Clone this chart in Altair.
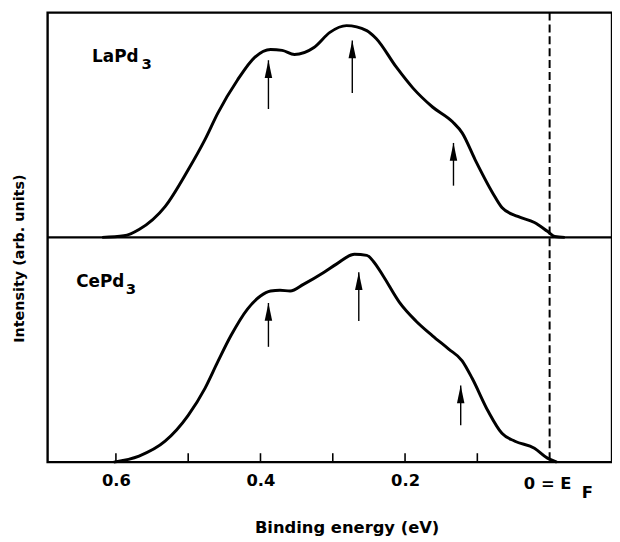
import altair as alt
import pandas as pd

# ---- data (binding energy in eV, intensity in arb. units, 0-100 per panel)
energy_la = [0.619, 0.589, 0.568, 0.532, 0.500, 0.477, 0.459, 0.432, 0.408, 0.386, 0.370, 0.353,
             0.326, 0.304, 0.281, 0.253, 0.240, 0.212, 0.189, 0.162, 0.134, 0.121, 0.103, 0.079,
             0.066, 0.044, 0.021, 0.003, -0.007, -0.021]
intensity_la = [0.0, 0.7, 3.5, 13.7, 30.1, 43.4, 55.3, 69.9, 80.1, 83.6, 83.2, 81.4,
                84.5, 91.2, 94.2, 92.0, 88.5, 75.7, 66.4, 58.0, 51.3, 46.5, 34.5, 19.9,
                13.3, 9.3, 6.6, 2.7, 0.4, 0.0]

energy_ce = [0.603, 0.568, 0.532, 0.500, 0.477, 0.459, 0.441, 0.418, 0.400, 0.386, 0.373, 0.359,
             0.340, 0.312, 0.295, 0.270, 0.253, 0.244, 0.230, 0.208, 0.185, 0.162, 0.140, 0.121,
             0.107, 0.085, 0.066, 0.048, 0.021, 0.003, -0.010]
intensity_ce = [0.0, 2.7, 9.3, 20.8, 32.7, 44.7, 56.2, 68.1, 73.9, 76.1, 76.5, 76.1,
                79.2, 84.5, 88.1, 92.5, 92.0, 89.4, 82.7, 71.2, 62.8, 56.2, 50.4, 45.1,
                37.2, 22.6, 12.8, 9.3, 6.2, 1.8, 0.0]

arrow_x_la = [0.389, 0.273, 0.133]
arrow_tip_la = [78.8, 87.6, 42.0]
arrow_tail_la = [57.1, 64.2, 23.0]
arrow_x_ce = [0.389, 0.264, 0.123]
arrow_tip_ce = [70.8, 84.5, 34.1]
arrow_tail_ce = [51.3, 62.8, 16.4]

tick_values = [0.6, 0.5, 0.4, 0.3, 0.2, 0.1]
label_values = [0.6, 0.4, 0.2]

compounds = ["LaPd3", "CePd3"]
panel_offset = {"LaPd3": 100.0, "CePd3": 0.0}

FONT = "DejaVu Sans"

rows = []
for e, i in zip(energy_la, intensity_la):
    rows.append({"compound": "LaPd3", "energy": e, "intensity": i})
for e, i in zip(energy_ce, intensity_ce):
    rows.append({"compound": "CePd3", "energy": e, "intensity": i})
curves = pd.DataFrame(rows)
curves["y"] = curves["intensity"] + curves["compound"].map(panel_offset)

arows = []
for x, t, b in zip(arrow_x_la, arrow_tip_la, arrow_tail_la):
    arows.append({"compound": "LaPd3", "energy": x, "tip": t + 100.0, "tail": b + 100.0})
for x, t, b in zip(arrow_x_ce, arrow_tip_ce, arrow_tail_ce):
    arows.append({"compound": "CePd3", "energy": x, "tip": t, "tail": b})
arrows = pd.DataFrame(arows)

xscale = alt.Scale(domain=[-0.0863, 0.6945], reverse=True, nice=False, zero=False)
yscale = alt.Scale(domain=[0, 200], nice=False, zero=True)

x_enc = alt.X(
    "energy:Q", scale=xscale,
    axis=alt.Axis(values=label_values, format=".1f", ticks=False, tickSize=0, domain=False,
                  grid=False, labelPadding=11, labelFontSize=16.5, labelFont=FONT,
                  labelFontWeight="bold", labelColor="black",
                  title="Binding energy (eV)", titleFont=FONT, titleFontSize=16.5,
                  titleFontWeight="bold", titleColor="black", titleX=302, titleY=66,
                  titleBaseline="middle", titleAlign="center"),
)
y_enc = alt.Y(
    "y:Q", scale=yscale,
    axis=alt.Axis(labels=False, ticks=False, domain=False, grid=False,
                  title="Intensity (arb. units)", titleFont=FONT, titleFontSize=14.5,
                  titleFontWeight="bold", titleColor="black", titleX=-28, titleY=248,
                  titleAngle=-90, titleBaseline="middle", titleAlign="center"),
)

lines = alt.Chart(curves).mark_line(
    color="black", strokeWidth=3, interpolate="monotone"
).encode(x=x_enc, y=y_enc, detail="compound:N")

shafts = alt.Chart(arrows).mark_rule(color="black", strokeWidth=1.4).encode(
    x=alt.X("energy:Q", scale=xscale), y=alt.Y("tail:Q", scale=yscale), y2="tip:Q"
)
heads = alt.Chart(arrows).mark_point(
    shape="M0,0L0.42,2L-0.42,2Z", filled=True, color="black", size=324, opacity=1, strokeWidth=0
).encode(x=alt.X("energy:Q", scale=xscale), y=alt.Y("tip:Q", scale=yscale))

mid_df = pd.DataFrame({"level": [100.0]})
midline = alt.Chart(mid_df).mark_rule(color="black", strokeWidth=2.4).encode(
    y=alt.Y("level:Q", scale=yscale)
)

fermi_df = pd.DataFrame({"energy": [0.0]})
fermi = alt.Chart(fermi_df).mark_rule(color="black", strokeWidth=2, strokeDash=[8, 4]).encode(
    x=alt.X("energy:Q", scale=xscale)
)

ticks_df = pd.DataFrame({"energy": tick_values})
ticks = alt.Chart(ticks_df).mark_rule(color="black", strokeWidth=1.6).encode(
    x=alt.X("energy:Q", scale=xscale), y=alt.value(454), y2=alt.value(445)
)

ef_label = alt.Chart(fermi_df).mark_text(
    text="0 = E", font=FONT, fontSize=16.5, fontWeight="bold", color="black",
    align="center", baseline="middle", dx=-2
).encode(x=alt.X("energy:Q", scale=xscale), y=alt.value(476))
ef_sub = alt.Chart(fermi_df).mark_text(
    text="F", font=FONT, fontSize=16.5, fontWeight="bold", color="black",
    align="center", baseline="middle", dx=38
).encode(x=alt.X("energy:Q", scale=xscale), y=alt.value(485))

name_df = pd.DataFrame({"compound": compounds,
                        "base": ["LaPd", "CePd"],
                        "sub": ["3", "3"]})
name_pos = {"LaPd3": (0.633, 178.0), "CePd3": (0.655, 78.0)}
name_df["energy"] = name_df["compound"].map(lambda c: name_pos[c][0])
name_df["level"] = name_df["compound"].map(lambda c: name_pos[c][1])

names = alt.Chart(name_df).mark_text(
    font=FONT, fontSize=17, fontWeight="bold", color="black", align="left", baseline="alphabetic"
).encode(x=alt.X("energy:Q", scale=xscale), y=alt.Y("level:Q", scale=yscale), text="base:N")
subs = alt.Chart(name_df).mark_text(
    font=FONT, fontSize=15, fontWeight="bold", color="black", align="left", baseline="alphabetic",
    dx=50, dy=7
).encode(x=alt.X("energy:Q", scale=xscale), y=alt.Y("level:Q", scale=yscale), text="sub:N")

chart = alt.layer(
    lines, midline, fermi, ticks, shafts, heads, names, subs, ef_label, ef_sub
).properties(
    width=570, height=454,
    autosize=alt.AutoSizeParams(type="none"),
    padding={"left": 40, "top": 2, "right": 0, "bottom": 76},
    background="white",
).configure_view(stroke="black", strokeWidth=2.4)

chart.save("out.html", embed_options={"renderer": "svg", "actions": False})
